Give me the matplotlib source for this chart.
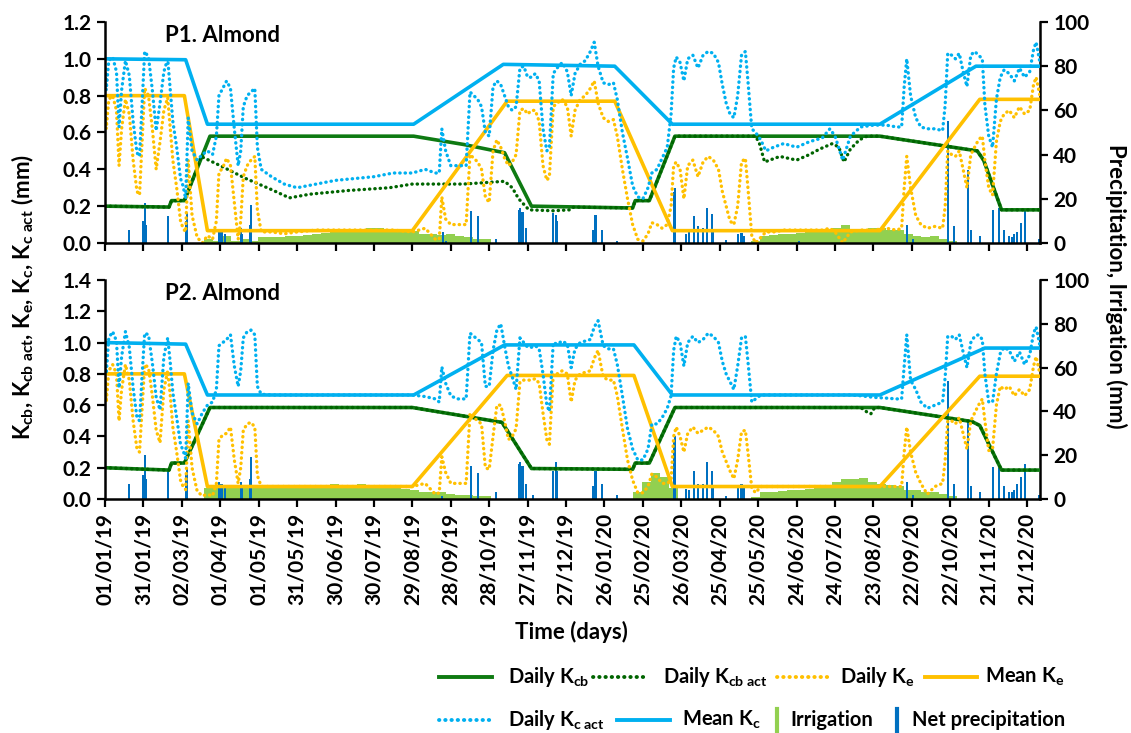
import numpy as np
import pandas as pd
import matplotlib
matplotlib.use("Agg")
import matplotlib.pyplot as plt
from matplotlib.lines import Line2D

plt.rcParams['font.family'] = ['Lato', 'DejaVu Sans']
plt.rcParams['font.weight'] = 'bold'
plt.rcParams['mathtext.fontset'] = 'custom'
plt.rcParams['mathtext.rm'] = 'Lato:bold'
plt.rcParams['mathtext.it'] = 'Lato:bold'
plt.rcParams['mathtext.bf'] = 'Lato:bold'
plt.rcParams['mathtext.default'] = 'rm'

START = pd.Timestamp('2019-01-01')

# ---- crop coefficient curves (day offset from 01/01/19, value) ----
p1_kcb_days = [0, 50, 52, 62, 82, 241, 280, 312, 333, 412, 414, 425, 445, 605, 681, 686, 700, 730]
p1_kcb = [0.20, 0.195, 0.23, 0.23, 0.58, 0.58, 0.535, 0.49, 0.20, 0.19, 0.23, 0.23, 0.58, 0.58, 0.50, 0.45, 0.18, 0.18]

p1_kcb_act_days = [0, 50, 52, 62, 72, 75, 90, 110, 130, 144, 160, 190, 222, 240, 280, 312, 318, 323, 331,
                   350, 363, 366, 412, 414, 425, 445, 508, 511, 515, 527, 540, 550, 558, 568, 573, 577, 582,
                   589, 595, 605, 681, 686, 700, 730]
p1_kcb_act = [0.20, 0.195, 0.23, 0.23, 0.405, 0.47, 0.42, 0.35, 0.29, 0.245, 0.265, 0.285, 0.30, 0.32, 0.32,
              0.335, 0.30, 0.24, 0.18, 0.175, 0.18, 0.195, 0.19, 0.23, 0.23, 0.58, 0.58, 0.54, 0.44, 0.47,
              0.45, 0.48, 0.51, 0.54, 0.52, 0.44, 0.51, 0.56, 0.58, 0.58, 0.50, 0.45, 0.18, 0.18]

p1_mean_kc_days = [0, 63, 80, 241, 311, 398, 443, 605, 680, 730]
p1_mean_kc = [1.00, 0.995, 0.645, 0.645, 0.97, 0.96, 0.645, 0.645, 0.96, 0.96]
p1_mean_ke_days = [0, 62, 80, 240, 314, 398, 443, 605, 683, 730]
p1_mean_ke = [0.80, 0.80, 0.067, 0.067, 0.77, 0.77, 0.067, 0.067, 0.78, 0.78]

p2_kcb_days = [0, 50, 52, 62, 82, 240, 310, 333, 412, 414, 425, 445, 605, 677, 683, 700, 730]
p2_kcb = [0.20, 0.185, 0.23, 0.23, 0.585, 0.585, 0.49, 0.195, 0.19, 0.23, 0.23, 0.585, 0.585, 0.495, 0.47, 0.185, 0.185]
p2_kcb_act_days = [0, 50, 52, 62, 82, 240, 310, 333, 412, 414, 425, 445, 590, 596, 598, 601, 605, 677, 683, 700, 730]
p2_kcb_act = [0.20, 0.185, 0.23, 0.23, 0.585, 0.585, 0.49, 0.195, 0.19, 0.23, 0.23, 0.585, 0.585, 0.55, 0.545,
              0.585, 0.585, 0.495, 0.47, 0.185, 0.185]

p2_mean_kc_days = [0, 63, 80, 241, 312, 413, 443, 605, 687, 730]
p2_mean_kc = [1.00, 0.99, 0.665, 0.665, 0.985, 0.985, 0.665, 0.665, 0.965, 0.965]
p2_mean_ke_days = [0, 62, 80, 240, 314, 413, 443, 605, 683, 730]
p2_mean_ke = [0.80, 0.80, 0.08, 0.08, 0.79, 0.79, 0.08, 0.08, 0.785, 0.785]

# ---- daily evaporation / actual crop coefficients, sampled on a shared set of days ----
obs_days = [0, 1, 3, 6, 9, 11, 13, 16, 19, 22, 25, 27, 29, 31, 34, 37, 40, 43, 46, 49, 51, 53, 56, 59, 61, 63, 65,
            68, 72, 76, 80, 84, 87, 89, 92, 95, 98, 101, 104, 106, 108, 111, 114, 117, 119, 122,
            130, 140, 150, 165, 180, 195, 210, 225, 240, 250, 258,
            261, 263, 266, 270, 275, 282, 285, 288, 291, 294, 297, 300, 303, 306, 309, 312, 315, 318, 321, 324,
            327, 330, 333, 336, 339, 342, 345,
            347, 350, 353, 357, 361, 364, 367, 371, 375, 379, 382, 385, 389, 393, 397, 400, 404, 408, 412, 416,
            420, 424, 427, 431, 435, 439, 442, 444,
            446, 449, 452, 455, 459, 463, 467, 471, 475, 479, 482, 485, 488, 491, 494, 497, 500, 502, 505, 508,
            512, 516, 522, 530, 540, 550, 560, 566, 570, 576, 582, 590, 600, 610, 618, 622, 624, 626, 629, 633,
            637, 642, 648, 654,
            656, 658, 661, 664, 667, 670, 673, 676, 679, 682, 685, 687, 690, 693, 696, 699, 702, 706, 710, 714,
            718, 722, 725, 727, 730]

p1_ke = [0.74, 0.62, 0.78, 0.80, 0.72, 0.42, 0.62, 0.78, 0.70, 0.45, 0.28, 0.26, 0.55, 0.84, 0.80, 0.62, 0.40,
         0.55, 0.72, 0.79, 0.62, 0.45, 0.30, 0.12, 0.08, 0.06, 0.45,
         0.15, 0.03, 0.00, 0.04, 0.02, 0.12, 0.38, 0.41, 0.46, 0.42, 0.22, 0.02, 0.12, 0.36, 0.42, 0.45, 0.47, 0.18, 0.06,
         0.06, 0.05, 0.06, 0.07, 0.07, 0.07, 0.07, 0.07, 0.06, 0.08, 0.02,
         0.02, 0.25, 0.13, 0.10, 0.10, 0.10, 0.48, 0.46, 0.44, 0.40, 0.25, 0.22, 0.50, 0.56, 0.52, 0.46, 0.42, 0.44,
         0.48, 0.72, 0.73, 0.70, 0.72, 0.72, 0.66, 0.42, 0.34,
         0.36, 0.74, 0.76, 0.78, 0.74, 0.58, 0.72, 0.78, 0.80, 0.84, 0.88, 0.76, 0.68, 0.66, 0.67, 0.58, 0.40, 0.24,
         0.10, 0.02, 0.01, 0.05, 0.11, 0.10, 0.08, 0.10, 0.20, 0.42,
         0.44, 0.40, 0.24, 0.42, 0.45, 0.36, 0.44, 0.47, 0.45, 0.40, 0.28, 0.20, 0.12, 0.10, 0.20, 0.44, 0.46, 0.30,
         0.04, 0.00,
         0.03, 0.06, 0.06, 0.07, 0.07, 0.07, 0.07, 0.08, 0.06, 0.00, 0.06, 0.07, 0.07, 0.08, 0.07, 0.08, 0.30, 0.47,
         0.30, 0.15, 0.10, 0.08, 0.09, 0.08,
         0.20, 0.50, 0.48, 0.47, 0.50, 0.40, 0.30, 0.48, 0.52, 0.56, 0.58, 0.45, 0.30, 0.26, 0.55, 0.66, 0.70, 0.72,
         0.68, 0.74, 0.70, 0.72, 0.86, 0.90, 0.80]

p1_kc_act = [0.95, 0.83, 0.99, 1.01, 0.93, 0.63, 0.83, 0.99, 0.91, 0.66, 0.49, 0.47, 0.76, 1.04, 1.01, 0.83, 0.61,
             0.76, 0.93, 1.00, 0.83, 0.66, 0.52, 0.35, 0.31, 0.24, 0.68,
             0.50, 0.45, 0.48, 0.50, 0.48, 0.58, 0.80, 0.84, 0.88, 0.84, 0.62, 0.42, 0.50, 0.74, 0.80, 0.82, 0.84,
             0.52, 0.40,
             0.36, 0.32, 0.30, 0.32, 0.34, 0.35, 0.36, 0.38, 0.38, 0.40, 0.38,
             0.38, 0.62, 0.50, 0.42, 0.42, 0.42, 0.82, 0.80, 0.78, 0.74, 0.60, 0.58, 0.85, 0.88, 0.86, 0.80, 0.74,
             0.72, 0.74, 0.95, 0.96, 0.90, 0.90, 0.92, 0.88, 0.62, 0.50,
             0.52, 0.92, 0.95, 0.98, 0.93, 0.80, 0.92, 0.97, 0.99, 1.04, 1.09, 0.96, 0.87, 0.86, 0.87, 0.78, 0.60,
             0.46, 0.31, 0.25, 0.24, 0.30, 0.38, 0.40, 0.46, 0.52, 0.70, 0.95,
             1.01, 0.98, 0.88, 1.00, 1.02, 0.95, 1.02, 1.04, 1.03, 0.98, 0.86, 0.76, 0.70, 0.68, 0.80, 1.02, 1.04,
             0.88, 0.62, 0.60,
             0.56, 0.50, 0.52, 0.54, 0.52, 0.55, 0.57, 0.62, 0.58, 0.45, 0.58, 0.63, 0.64, 0.64, 0.63, 0.63, 0.85,
             1.00, 0.80, 0.68, 0.63, 0.62, 0.62, 0.61,
             0.75, 1.03, 1.02, 1.00, 1.03, 0.93, 0.85, 1.02, 1.04, 1.02, 1.00, 0.75, 0.58, 0.52, 0.78, 0.90, 0.94,
             0.92, 0.88, 0.95, 0.90, 0.93, 1.05, 1.09, 0.98]

p2_ke = [0.78, 0.62, 0.82, 0.86, 0.80, 0.50, 0.70, 0.86, 0.76, 0.50, 0.32, 0.30, 0.58, 0.86, 0.84, 0.66, 0.44,
         0.36, 0.70, 0.82, 0.66, 0.46, 0.30, 0.12, 0.08, 0.06, 0.50,
         0.20, 0.05, 0.02, 0.03, 0.02, 0.10, 0.38, 0.41, 0.42, 0.46, 0.25, 0.10, 0.20, 0.44, 0.48, 0.49, 0.46, 0.15, 0.08,
         0.08, 0.08, 0.08, 0.08, 0.08, 0.08, 0.08, 0.08, 0.08, 0.10, 0.03,
         0.04, 0.27, 0.17, 0.10, 0.10, 0.10, 0.55, 0.52, 0.50, 0.48, 0.20, 0.19, 0.40, 0.60, 0.60, 0.50, 0.38, 0.40,
         0.45, 0.75, 0.76, 0.76, 0.76, 0.77, 0.74, 0.55, 0.38,
         0.35, 0.80, 0.80, 0.82, 0.80, 0.62, 0.76, 0.80, 0.81, 0.82, 0.90, 0.95, 0.78, 0.76, 0.76, 0.66, 0.45, 0.25,
         0.12, 0.04, 0.04, 0.08, 0.16, 0.14, 0.10, 0.10, 0.12, 0.40,
         0.46, 0.40, 0.30, 0.42, 0.46, 0.42, 0.44, 0.46, 0.44, 0.40, 0.30, 0.24, 0.18, 0.13, 0.25, 0.43, 0.44, 0.30,
         0.07, 0.04,
         0.08, 0.08, 0.08, 0.08, 0.08, 0.08, 0.08, 0.08, 0.08, 0.08, 0.08, 0.08, 0.08, 0.08, 0.08, 0.08, 0.30, 0.46,
         0.30, 0.17, 0.10, 0.03, 0.08, 0.10,
         0.25, 0.50, 0.50, 0.48, 0.52, 0.42, 0.32, 0.50, 0.55, 0.60, 0.64, 0.50, 0.31, 0.32, 0.60, 0.72, 0.70, 0.72,
         0.66, 0.70, 0.66, 0.70, 0.85, 0.91, 0.80]

p2_kc_act = [0.99, 0.80, 1.03, 1.07, 1.01, 0.71, 0.91, 1.07, 0.97, 0.71, 0.52, 0.50, 0.79, 1.06, 1.05, 0.87, 0.65,
             0.57, 0.91, 1.03, 0.87, 0.68, 0.52, 0.35, 0.31, 0.26, 0.74,
             0.55, 0.48, 0.55, 0.60, 0.62, 0.70, 0.98, 1.00, 1.02, 1.05, 0.85, 0.72, 0.82, 1.03, 1.07, 1.08, 1.05,
             0.72, 0.67,
             0.665, 0.665, 0.665, 0.665, 0.665, 0.665, 0.665, 0.665, 0.665, 0.655, 0.64,
             0.62, 0.845, 0.74, 0.66, 0.64, 0.64, 1.06, 1.04, 1.02, 1.00, 0.72, 0.72, 0.95, 1.08, 1.12, 0.98, 0.85,
             0.78, 0.70, 1.03, 1.00, 0.97, 0.97, 0.98, 0.96, 0.80, 0.60,
             0.56, 1.00, 0.99, 1.01, 0.99, 0.84, 0.96, 1.00, 1.01, 1.02, 1.10, 1.14, 0.98, 0.96, 0.96, 0.86, 0.66,
             0.45, 0.32, 0.25, 0.25, 0.32, 0.48, 0.48, 0.52, 0.58, 0.66, 0.95,
             1.04, 1.00, 0.85, 1.00, 1.04, 1.00, 1.02, 1.06, 1.04, 1.00, 0.88, 0.80, 0.75, 0.70, 0.85, 1.03, 1.04,
             0.88, 0.62, 0.64,
             0.665, 0.665, 0.665, 0.665, 0.665, 0.665, 0.665, 0.665, 0.665, 0.665, 0.665, 0.66, 0.65, 0.645, 0.64,
             0.64, 0.85, 1.05, 0.76, 0.70, 0.62, 0.58, 0.60, 0.62,
             0.78, 1.04, 1.04, 1.02, 1.05, 0.94, 0.84, 1.00, 1.04, 1.05, 1.02, 0.80, 0.62, 0.62, 0.80, 0.93, 0.97,
             0.95, 0.88, 0.94, 0.86, 0.92, 1.06, 1.10, 0.98]

for series in (p1_ke, p1_kc_act, p2_ke, p2_kc_act):
    assert len(series) == len(obs_days)

# ---- water inputs (mm) ----
p1_rain_days = [19, 30, 31, 32, 49, 63, 64, 89, 91, 94, 106, 107, 113, 114, 264, 266, 286, 291, 305, 323, 324,
                325, 326, 329, 350, 352, 353, 381, 383, 388, 400, 444, 445, 454, 456, 460, 463, 467, 470, 474,
                475, 485, 494, 497, 499, 542, 626, 631, 658, 663, 674, 676, 683, 693, 698, 702, 706, 708, 710,
                712, 715, 718, 729]
p1_rain = [6, 10, 18, 8, 12, 10, 13.5, 5, 6, 4, 7, 4, 8, 17, 5, 1, 14.5, 12, 2, 15, 16, 10, 14, 7, 13.5, 12.8,
           10, 6, 12.8, 6, 1, 23, 25, 4, 5, 12, 7.5, 7, 16, 13, 5, 1.5, 4, 4.5, 3, 1, 8, 2, 55, 7.5, 33, 6, 3,
           15, 16, 6, 3, 2.5, 4, 5, 9, 15, 2]
p2_rain_days = [19, 30, 31, 32, 49, 63, 64, 89, 91, 94, 106, 107, 113, 114, 263, 286, 291, 305, 323, 324, 325,
                326, 329, 334, 350, 352, 353, 381, 383, 388, 400, 444, 445, 454, 456, 460, 463, 467, 470, 474,
                475, 485, 494, 497, 499, 626, 631, 658, 663, 674, 676, 683, 693, 698, 702, 706, 708, 710, 712,
                715, 718, 729]
p2_rain = [7, 11, 20, 9, 13, 11, 13.7, 8, 7, 5, 8, 5, 9, 19, 1.5, 15, 12, 3, 16, 17, 12, 15, 7, 2, 13, 17, 13,
           6, 13, 7, 2, 27, 29, 4.5, 4, 13, 7, 7, 17, 13, 5, 1.5, 6, 7, 5, 8, 2, 54, 7, 36, 6, 3, 14.5, 14, 6,
           3, 3, 4, 7, 10, 16, 2]

# irrigation doses per week (mm/day), each run starting on the given day
p1_irr_start = [78, 505]
p1_irr_weekly = [
    [2, 1, 3, 1, 2, 1, 2.5, 2.5, 2.5, 3, 3, 3.5, 4, 4.5, 5, 5, 5.5, 6, 7, 7, 6.5, 6, 6, 5.5, 4, 4, 3.5, 4, 3,
     2.5, 2, 2],
    [1, 3, 3.5, 4, 4, 4.5, 5, 5, 5.5, 7, 8, 6.5, 6.5, 7, 7, 6, 6, 4, 3, 2.5, 3, 2, 1],
]
p2_irr_start = [78, 413, 505]
p2_irr_weekly = [
    [5, 5.5, 6, 5.5, 6, 6, 6.5, 6, 6.5, 6.5, 6.5, 6, 6.5, 6.5, 7, 6.5, 6.5, 7, 6.5, 6, 5.5, 5, 4.5, 4, 3, 3, 3,
     2.5, 2, 2, 1.5, 1.5],
    [3, 8, 12, 10, 5],
    [1, 3, 3, 3.5, 4, 4, 4.5, 5, 6, 8, 9, 9, 9.5, 8, 7, 6.5, 6, 4, 4, 3, 3, 2.5, 1.5],
]

tick_days = list(range(0, 721, 30))
tick_labels = [(START + pd.Timedelta(days=d)).strftime('%d/%m/%y') for d in tick_days]

C_KCB = '#0E7A12'
C_KCB_ACT = '#006400'
C_KE = '#FFC000'
C_KC = '#00B0F0'
C_IRR = '#92D050'
C_RAIN = '#0070C0'
DOT = (0, (0.1, 1.5))


def expand_irrigation(starts, weekly):
    days, vals = [], []
    for s, w in zip(starts, weekly):
        days.append(s + np.arange(len(w) * 7))
        vals.append(np.repeat(w, 7))
    return np.concatenate(days), np.concatenate(vals)


def draw_panel(ax, title, ymax, kcb, kcb_act, ke, mean_ke, kc_act, mean_kc, rain, irr, show_x):
    ax2 = ax.twinx()
    ax.set_zorder(ax2.get_zorder() + 1)
    ax.patch.set_visible(False)

    idays, ivals = irr
    ax2.bar(idays, ivals, width=1.0, color=C_IRR, linewidth=0)
    ax2.bar(rain[0], rain[1], width=1.6, color=C_RAIN, linewidth=0)
    ax2.set_ylim(0, 100)
    ax2.set_yticks(range(0, 101, 20))

    ax.plot(kcb[0], kcb[1], color=C_KCB, lw=2.6, solid_joinstyle='round')
    ax.plot(kcb_act[0], kcb_act[1], color=C_KCB_ACT, lw=2.4, linestyle=DOT, dash_capstyle='round')
    ax.plot(obs_days, ke, color=C_KE, lw=2.4, linestyle=DOT, dash_capstyle='round')
    ax.plot(mean_ke[0], mean_ke[1], color=C_KE, lw=2.6)
    ax.plot(obs_days, kc_act, color=C_KC, lw=2.4, linestyle=DOT, dash_capstyle='round')
    ax.plot(mean_kc[0], mean_kc[1], color=C_KC, lw=2.6)

    ax.set_xlim(0, 730)
    ax.set_ylim(0, ymax)
    ax.set_yticks(np.round(np.arange(0, ymax + 0.01, 0.2), 1))
    ax.yaxis.set_major_formatter(plt.FormatStrFormatter('%.1f'))
    ax.set_xticks(tick_days)
    if show_x:
        ax.set_xticklabels(tick_labels, rotation=90)
    else:
        ax.set_xticklabels([])

    for a in (ax, ax2):
        a.spines['top'].set_visible(False)
        for s in a.spines.values():
            s.set_linewidth(1.8)
        a.tick_params(direction='out', length=6, width=1.6, labelsize=15)
    ax.spines['right'].set_visible(False)
    ax2.spines['left'].set_visible(False)
    ax2.spines['bottom'].set_visible(False)
    ax.tick_params(axis='x', pad=4)

    ax.text(0.064, 0.985, title, transform=ax.transAxes, fontsize=16, fontweight='bold', va='top', ha='left')
    return ax2


fig = plt.figure(figsize=(11.31, 7.33), dpi=100)
ax1 = fig.add_axes([0.0928, 0.6685, 0.8267, 0.3015])
ax3 = fig.add_axes([0.0928, 0.3192, 0.8267, 0.2988])

draw_panel(ax1, 'P1. Almond', 1.2,
           (p1_kcb_days, p1_kcb), (p1_kcb_act_days, p1_kcb_act), p1_ke,
           (p1_mean_ke_days, p1_mean_ke), p1_kc_act, (p1_mean_kc_days, p1_mean_kc),
           (p1_rain_days, p1_rain), expand_irrigation(p1_irr_start, p1_irr_weekly), False)
draw_panel(ax3, 'P2. Almond', 1.4,
           (p2_kcb_days, p2_kcb), (p2_kcb_act_days, p2_kcb_act), p2_ke,
           (p2_mean_ke_days, p2_mean_ke), p2_kc_act, (p2_mean_kc_days, p2_mean_kc),
           (p2_rain_days, p2_rain), expand_irrigation(p2_irr_start, p2_irr_weekly), True)

fig.text(0.505, 0.138, 'Time (days)', ha='center', va='center', fontsize=16, fontweight='bold')
fig.text(0.02, 0.595, r'K$_{\mathrm{cb}}$, K$_{\mathrm{cb\ act}}$, K$_{\mathrm{e}}$, K$_{\mathrm{c}}$, '
         r'K$_{\mathrm{c\ act}}$ (mm)', rotation=90, ha='center', va='center', fontsize=16, fontweight='bold')
fig.text(0.987, 0.61, 'Precipitation, Irrigation (mm)', rotation=270, ha='center', va='center',
         fontsize=16, fontweight='bold')

# legend, laid out in two rows
W, H = 1131.0, 733.0
legend_rows = [
    (677, [('line', C_KCB, '-', 439, 492, r'Daily K$_{\mathrm{cb}}$', 508),
           ('line', C_KCB_ACT, DOT, 593, 645, r'Daily K$_{\mathrm{cb\ act}}$', 663),
           ('line', C_KE, DOT, 777, 830, r'Daily K$_{\mathrm{e}}$', 840),
           ('line', C_KE, '-', 925, 977, r'Mean K$_{\mathrm{e}}$', 985)]),
    (720, [('line', C_KC, DOT, 439, 492, r'Daily K$_{\mathrm{c\ act}}$', 508),
           ('line', C_KC, '-', 617, 670, r'Mean K$_{\mathrm{c}}$', 682),
           ('bar', C_IRR, None, 777, 777, 'Irrigation', 790),
           ('bar', C_RAIN, None, 897, 897, 'Net precipitation', 912)]),
]
for ypix, entries in legend_rows:
    yf = 1 - ypix / H
    for kind, color, ls, x0, x1, label, xt in entries:
        if kind == 'line':
            fig.add_artist(Line2D([x0 / W, x1 / W], [yf, yf], color=color, lw=2.8, linestyle=ls,
                                  dash_capstyle='round', transform=fig.transFigure))
        else:
            fig.add_artist(Line2D([x0 / W, x0 / W], [yf - 11 / H, yf + 11 / H], color=color, lw=3,
                                  transform=fig.transFigure))
        fig.text(xt / W, yf, label, ha='left', va='center', fontsize=14.5, fontweight='bold')

fig.savefig('out.png', dpi=100)
